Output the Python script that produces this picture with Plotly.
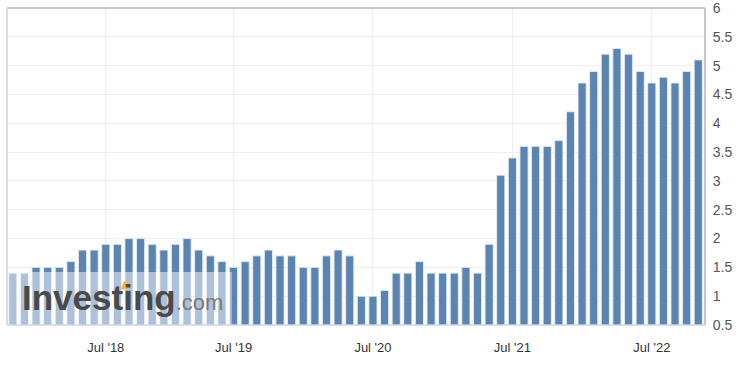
import plotly.graph_objects as go

values = [1.4, 1.4, 1.5, 1.5, 1.5, 1.6, 1.8, 1.8, 1.9, 1.9, 2.0, 2.0, 1.9, 1.8, 1.9, 2.0,
          1.8, 1.7, 1.6, 1.5, 1.6, 1.7,
          1.8, 1.7, 1.7, 1.5, 1.5, 1.7, 1.8, 1.7, 1.0, 1.0, 1.1, 1.4, 1.4, 1.6, 1.4, 1.4,
          1.4, 1.5, 1.4, 1.9, 3.1,
          3.4, 3.6, 3.6, 3.6, 3.7, 4.2, 4.7, 4.9, 5.2, 5.3, 5.2, 4.9, 4.7, 4.8, 4.7, 4.9, 5.1]
periods = list(range(len(values)))
tick_positions = [8, 19, 31, 43, 55]
tick_labels = ["Jul '18", "Jul '19", "Jul '20", "Jul '21", "Jul '22"]

fig = go.Figure()
fig.add_trace(go.Bar(
    x=periods, y=values,
    marker=dict(color="#5b84b1", line=dict(color="rgba(230,236,245,0.9)", width=1)),
    hoverinfo="y",
))

fig.update_layout(
    width=752, height=366,
    margin=dict(l=7, r=47, t=8, b=41),
    paper_bgcolor="white", plot_bgcolor="white",
    bargap=0.3,
    showlegend=False,
    font=dict(family="Liberation Sans, Arial, sans-serif"),
    xaxis=dict(
        range=[-0.5, 59.58], automargin=False,
        tickmode="array", tickvals=tick_positions, ticktext=tick_labels,
        showgrid=True, gridcolor="#efefef", gridwidth=1,
        ticks="outside", ticklen=10, tickcolor="rgba(0,0,0,0)",
        tickfont=dict(size=13, color="#333333"),
        showline=False, zeroline=False,
    ),
    yaxis=dict(
        range=[0.5, 6.001], dtick=0.5, tick0=0.5, side="right", automargin=False,
        showgrid=True, gridcolor="#efefef", gridwidth=1,
        tickfont=dict(size=14, color="#555555"),
        ticks="outside", ticklen=4, tickcolor="rgba(0,0,0,0)",
        ticklabeloverflow="allow",
        showline=False, zeroline=False,
    ),
    shapes=[
        # watermark overlay
        dict(type="rect", xref="paper", yref="paper", x0=0, x1=0.322, y0=0, y1=0.167,
             fillcolor="rgba(255,255,255,0.5)", line=dict(width=0), layer="above"),
        # orange accent of the logo
        dict(type="path", xref="paper", yref="paper",
             path="M 0.163,0.112 L 0.172,0.112 L 0.176,0.137 L 0.167,0.137 Z",
             fillcolor="#f6b545", line=dict(width=0), layer="above"),
        # borders
        dict(type="line", xref="paper", yref="paper", x0=0, x1=1, y0=1, y1=1,
             line=dict(color="#b4b4b4", width=1.5)),
        dict(type="line", xref="paper", yref="paper", x0=1, x1=1, y0=0, y1=1,
             line=dict(color="#b4b4b4", width=1.5)),
        dict(type="line", xref="paper", yref="paper", x0=0, x1=0, y0=0, y1=1,
             line=dict(color="#d0d0d0", width=1.5)),
        dict(type="line", xref="paper", yref="paper", x0=0, x1=1, y0=0, y1=0,
             line=dict(color="#ccd6eb", width=1.5)),
    ],
    annotations=[
        dict(xref="paper", yref="paper", x=0.019, y=0.086, xanchor="left", yanchor="middle",
             showarrow=False,
             text="<b>Investing</b><span style='font-size:22px;color:#7a7a7a'>.com</span>",
             font=dict(family="Liberation Sans, Arial, sans-serif", size=35, color="#4a4a4a")),
    ],
)

fig.write_html("out.html", config={"displayModeBar": False},
               post_script="document.body.style.margin='0';document.body.style.padding='0';")
